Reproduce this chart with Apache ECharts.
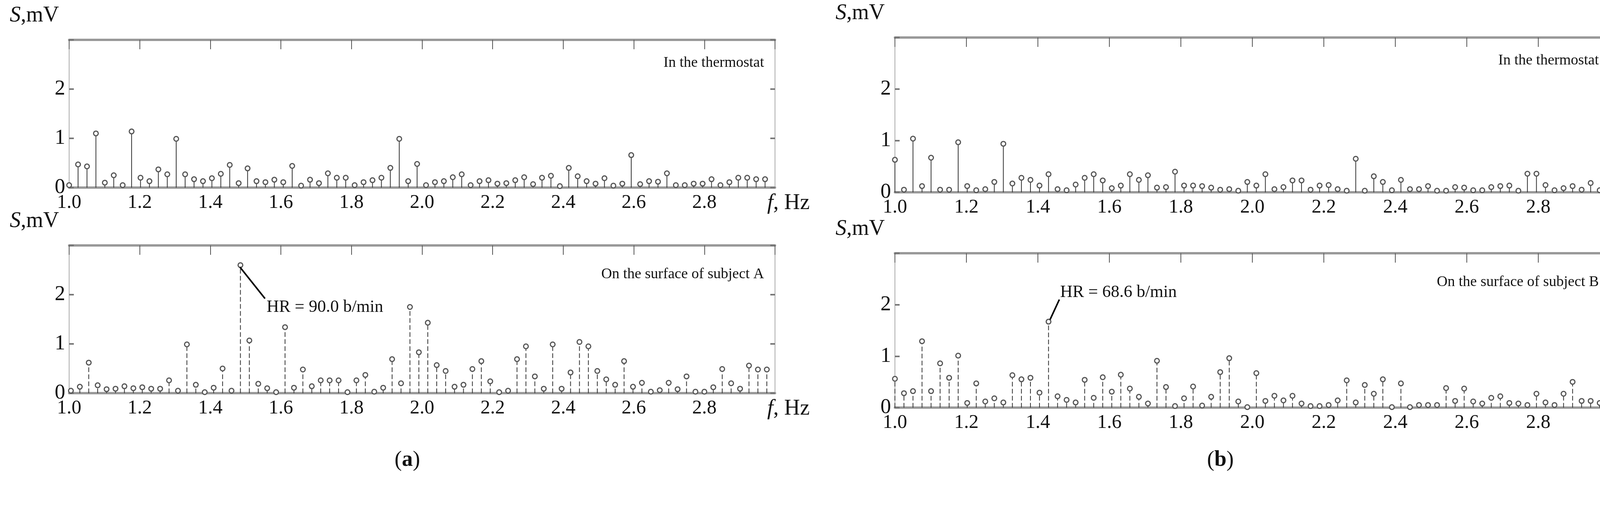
<!DOCTYPE html>
<html>
<head>
<meta charset="utf-8">
<script src="https://cdn.jsdelivr.net/npm/echarts@6/dist/echarts.min.js"></script>
<style>html,body{margin:0;background:#fff;overflow:hidden}#chart{width:4205px;height:1305px}</style>
</head>
<body>
<div id="chart"></div>
<script>
// spectra, 79 lines each, step ~0.0253 Hz from 1.0 Hz
var STEP = 0.02528;
var aTop = [0.05,0.47,0.43,1.1,0.1,0.25,0.05,1.14,0.2,0.13,0.37,0.27,0.99,0.27,0.17,0.13,0.19,0.28,0.46,0.09,
  0.39,0.13,0.11,0.16,0.11,0.44,0.04,0.16,0.09,0.29,0.2,0.2,0.05,0.11,0.15,0.2,0.4,0.99,0.13,0.48,
  0.05,0.11,0.13,0.21,0.27,0.05,0.13,0.15,0.08,0.09,0.15,0.21,0.07,0.2,0.24,0.03,0.4,0.23,0.13,0.08,
  0.19,0.04,0.08,0.66,0.07,0.13,0.12,0.29,0.05,0.05,0.08,0.08,0.17,0.05,0.11,0.2,0.2,0.17,0.17];
var aBot = [0.05,0.13,0.62,0.16,0.08,0.09,0.14,0.1,0.12,0.09,0.09,0.26,0.05,0.99,0.17,0.02,0.11,0.5,0.05,2.6,
  1.07,0.19,0.1,0.02,1.34,0.11,0.48,0.14,0.26,0.26,0.26,0.02,0.26,0.37,0.03,0.11,0.69,0.2,1.75,0.83,
  1.43,0.57,0.45,0.13,0.17,0.49,0.65,0.24,0.02,0.05,0.69,0.95,0.34,0.09,0.99,0.09,0.42,1.04,0.95,0.45,
  0.28,0.17,0.65,0.13,0.21,0.03,0.06,0.21,0.08,0.34,0.03,0.03,0.12,0.49,0.2,0.09,0.56,0.48,0.48];
var bTop = [0.63,0.05,1.04,0.12,0.67,0.05,0.05,0.97,0.12,0.04,0.06,0.2,0.94,0.17,0.28,0.24,0.13,0.35,0.06,0.04,
  0.15,0.28,0.35,0.23,0.08,0.13,0.35,0.24,0.33,0.09,0.1,0.4,0.13,0.13,0.12,0.09,0.05,0.06,0.03,0.2,
  0.13,0.35,0.06,0.1,0.23,0.23,0.05,0.13,0.14,0.06,0.03,0.65,0.03,0.31,0.2,0.04,0.24,0.06,0.06,0.12,
  0.03,0.03,0.1,0.09,0.04,0.04,0.1,0.12,0.13,0.03,0.36,0.36,0.14,0.04,0.08,0.12,0.05,0.18,0.04];
var bBot = [0.56,0.28,0.32,1.29,0.32,0.86,0.58,1.01,0.09,0.47,0.12,0.18,0.1,0.63,0.55,0.58,0.29,1.67,0.22,0.15,
  0.1,0.54,0.19,0.59,0.31,0.64,0.37,0.21,0.08,0.91,0.4,0.03,0.18,0.41,0.04,0.21,0.69,0.96,0.12,0.01,
  0.67,0.13,0.23,0.14,0.23,0.08,0.03,0.03,0.05,0.14,0.53,0.1,0.44,0.27,0.55,0.01,0.47,0.01,0.05,0.05,
  0.05,0.38,0.13,0.37,0.12,0.08,0.19,0.22,0.09,0.08,0.05,0.27,0.1,0.05,0.27,0.5,0.13,0.13,0.09];
var xTicks = ['1.0','1.2','1.4','1.6','1.8','2.0','2.2','2.4','2.6','2.8'];
var yTicks = ['0','1','2'];
var captions = ['In the thermostat','On the surface of subject A','In the thermostat','On the surface of subject B'];
// peak [f, S, text], leader end [f, S]
var peaks = [null, [1.48, 2.6, 'HR = 90.0 b/min'], null, [1.43, 1.67, 'HR = 68.6 b/min']];
var leaderEnd = [null, [1.555, 1.92], null, [1.46, 2.1]];

var FONT = 'Liberation Serif';
var grids = [
  {left: 177, width: 1807, top: 102, height: 378},
  {left: 177, width: 1807, top: 628, height: 378},
  {left: 2291, width: 1830, top: 96, height: 396},
  {left: 2291, width: 1830, top: 648, height: 395}
];
var sets = [aTop, aBot, bTop, bBot];
var offs = [0, 0.005, 0, 0];

var xAxis = [], yAxis = [], series = [], graphic = [];
grids.forEach(function (g, k) {
  var border = {show: true, onZero: false, lineStyle: {color: '#999', width: 6}};
  xAxis.push({type: 'value', gridIndex: k, min: 1, max: 3, interval: 0.2, position: 'bottom',
    axisLine: border, axisTick: {show: false}, splitLine: {show: false},
    axisLabel: {margin: 14, fontFamily: FONT, fontSize: 50, color: '#111',
      formatter: function (v) { var s = v.toFixed(1); return xTicks.indexOf(s) >= 0 ? s : ''; }}});
  xAxis.push({type: 'value', gridIndex: k, min: 1, max: 3, interval: 0.2, position: 'top',
    axisLine: border, axisLabel: {show: false}, splitLine: {show: false},
    axisTick: {show: true, inside: true, length: 24, lineStyle: {color: '#555', width: 2}}});
  yAxis.push({type: 'value', gridIndex: k, min: 0, max: 3, interval: 1, position: 'left',
    axisLine: {show: true, onZero: false, lineStyle: {color: '#aaa', width: 2}}, splitLine: {show: false},
    axisTick: {show: true, inside: true, length: 12, lineStyle: {color: '#777', width: 4}},
    axisLabel: {margin: 10, fontFamily: FONT, fontSize: 54, color: '#111',
      formatter: function (v) { return yTicks.indexOf(String(v)) >= 0 ? String(v) : ''; }}});
  yAxis.push({type: 'value', gridIndex: k, min: 0, max: 3, interval: 1, position: 'right',
    axisLine: {show: true, onZero: false, lineStyle: {color: '#aaa', width: 2}}, splitLine: {show: false},
    axisTick: {show: true, inside: true, length: 12, lineStyle: {color: '#777', width: 4}},
    axisLabel: {show: false}});

  var data = sets[k].map(function (v, i) { return [1 + offs[k] + i * STEP, v]; });
  var dashed = k % 2 === 1;
  var s = {
    type: 'custom', xAxisIndex: 2 * k, yAxisIndex: 2 * k, data: data, clip: false,
    renderItem: function (params, api) {
      var top = api.coord([api.value(0), api.value(1)]);
      var base = api.coord([api.value(0), 0]);
      return {type: 'group', children: [
        {type: 'line', shape: {x1: base[0], y1: base[1], x2: top[0], y2: top[1] + 6},
          style: {stroke: '#333', lineWidth: 2, lineDash: dashed ? [12, 6] : null}},
        {type: 'circle', shape: {cx: top[0], cy: top[1], r: 6},
          style: {fill: '#fff', stroke: '#555', lineWidth: 3}}
      ]};
    }
  };
  if (peaks[k]) {
    var p = peaks[k], e = leaderEnd[k];
    s.markLine = {symbol: 'none', silent: true,
      lineStyle: {color: '#000', width: 4, type: 'solid'},
      label: {show: false},
      data: [[{coord: [p[0] + 0.004, p[1] + (k === 1 ? -0.04 : 0.04)]}, {coord: e}]]};
    s.markPoint = {silent: true, symbol: 'circle', symbolSize: 0,
      data: [{coord: e, label: {show: true, formatter: p[2], fontFamily: FONT, fontSize: 44, color: '#111',
        position: k === 1 ? [4, 0] : [2, -40], align: 'left'}}]};
  }
  series.push(s);

  graphic.push({type: 'text', left: g.left - 152, top: g.top - 90,
    style: {rich: {i: {fontFamily: FONT, fontStyle: 'italic', fontSize: 56, fill: '#111'},
      n: {fontFamily: FONT, fontSize: 56, fill: '#111'}}, text: '{i|S}{n|,mV}'}});
  graphic.push({type: 'text', left: g.left + g.width - 20, top: g.top + g.height + 12,
    style: {rich: {i: {fontFamily: FONT, fontStyle: 'italic', fontSize: 56, fill: '#111'},
      n: {fontFamily: FONT, fontSize: 56, fill: '#111'}}, text: '{i|f}{n|, Hz}'}});
  graphic.push({type: 'text', right: 4205 - (g.left + g.width) + 28, top: g.top + (k % 2 ? 55 : 40),
    style: {text: captions[k], fontFamily: FONT, fontSize: 38, fill: '#111'}});
});
graphic.push({type: 'text', left: 1010, top: 1150,
  style: {rich: {p: {fontFamily: FONT, fontSize: 56, fill: '#111'}, b: {fontFamily: FONT, fontSize: 56, fontWeight: 'bold', fill: '#111'}},
    text: '{p|(}{b|a}{p|)}'}});
graphic.push({type: 'text', left: 3090, top: 1150,
  style: {rich: {p: {fontFamily: FONT, fontSize: 56, fill: '#111'}, b: {fontFamily: FONT, fontSize: 56, fontWeight: 'bold', fill: '#111'}},
    text: '{p|(}{b|b}{p|)}'}});

var myChart = echarts.init(document.getElementById('chart'));
myChart.setOption({
  animation: false,
  backgroundColor: '#fff',
  grid: grids,
  xAxis: xAxis,
  yAxis: yAxis,
  series: series,
  graphic: graphic
});
</script>
</body>
</html>
